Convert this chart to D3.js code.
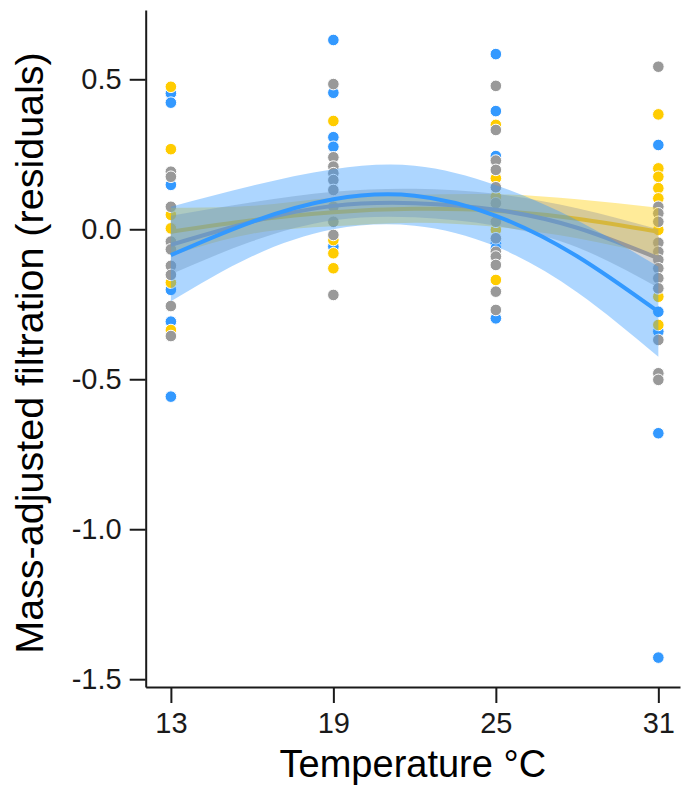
<!DOCTYPE html>
<html lang="en">
<head>
  <meta charset="UTF-8"/>
  <title>Mass-adjusted filtration residuals vs temperature</title>
  <script src="https://d3js.org/d3.v7.min.js"></script>
  <style>
body {
  margin: 0;
  background: #fff;
  font-family: 'Liberation Sans', Arial, sans-serif;
}

svg {
  display: block;
}

.axis path,
.axis line {
  stroke: #1a1a1a;
  stroke-width: 2;
}

.axis text {
  font-size: 29px;
  fill: #1a1a1a;
  font-family: 'Liberation Sans', Arial, sans-serif;
}

text.label {
  font-size: 38px;
  fill: #000;
}

text.label.ylab {
  font-size: 39.5px;
}

.dot {
  stroke: #fff;
  stroke-width: 1;
}

.band {
  opacity: 0.4;
  stroke: none;
}

.fit {
  fill: none;
  stroke-width: 4;
}
  </style>
</head>
<body>
  <svg width="682" height="790"></svg>
  <script>

// temperatures (x axis categories) and y tick values
const temps = [13, 19, 25, 31];
const yTicks = [0.5, 0, -0.5, -1, -1.5];

// residuals, as [temperature, value]
const bluePoints = [
  [13, 0.453], [13, 0.422], [13, 0.148], [13, -0.202], [13, -0.308], [13, -0.558],
  [19, 0.631], [19, 0.455], [19, 0.307], [19, 0.275], [19, -0.058],
  [25, 0.584], [25, 0.394], [25, 0.244], [25, -0.047], [25, -0.063], [25, -0.297],
  [31, 0.281], [31, -0.275], [31, -0.341], [31, -0.68], [31, -1.428]
];

const yellowPoints = [
  [13, 0.475], [13, 0.267], [13, 0.048], [13, 0.003], [13, -0.178], [13, -0.336],
  [19, 0.361], [19, -0.036], [19, -0.08], [19, -0.13],
  [25, 0.348], [25, 0.17], [25, 0.109], [25, -0.002], [25, -0.169],
  [31, 0.383], [31, 0.203], [31, 0.175], [31, 0.137], [31, 0.103], [31, -0.002],
  [31, -0.225], [31, -0.319]
];

const grayPoints = [
  [13, 0.192], [13, 0.175], [13, 0.075], [13, -0.041], [13, -0.067], [13, -0.122],
  [13, -0.152], [13, -0.256], [13, -0.356],
  [19, 0.484], [19, 0.24], [19, 0.209], [19, 0.187], [19, 0.164], [19, 0.131],
  [19, 0.075], [19, 0.025], [19, -0.019], [19, -0.219],
  [25, 0.478], [25, 0.331], [25, 0.229], [25, 0.198], [25, 0.14], [25, 0.087],
  [25, 0.025], [25, -0.03], [25, -0.075], [25, -0.091], [25, -0.119], [25, -0.208],
  [25, -0.269],
  [31, 0.542], [31, 0.075], [31, 0.053], [31, 0.025], [31, -0.045], [31, -0.075],
  [31, -0.102], [31, -0.13], [31, -0.163], [31, -0.197], [31, -0.369], [31, -0.48],
  [31, -0.502]
];

// fitted curves and confidence bands, read at these temperatures
const fitTemps = [13, 16, 19, 22, 25, 28, 31];

const yellowFit = [-0.008, 0.03, 0.057, 0.068, 0.062, 0.035, -0.008];
const yellowHi = [0.072, 0.078, 0.105, 0.115, 0.117, 0.1, 0.072];
const yellowLo = [-0.088, -0.015, 0.01, 0.022, 0.008, -0.03, -0.088];

const grayFit = [-0.052, 0.025, 0.078, 0.087, 0.065, 0.005, -0.097];
const grayHi = [0.045, 0.09, 0.125, 0.135, 0.118, 0.07, 0.0];
const grayLo = [-0.15, -0.04, 0.03, 0.04, 0.012, -0.06, -0.195];

const blueFit = [-0.086, 0.025, 0.1, 0.112, 0.045, -0.09, -0.275];
const blueHi = [0.075, 0.145, 0.2, 0.212, 0.147, 0.03, -0.125];
const blueLo = [-0.24, -0.09, 0.0, 0.012, -0.057, -0.21, -0.425];

const colors = { blue: '#3399FF', yellow: '#FFCC00', gray: '#999999' };

const svg = d3.select('svg');

const plotLeft = 145.7, plotRight = 680, plotTop = 10, plotBottom = 687;

const xScale = d3.scaleLinear()
  .domain([12.07, 31.8])
  .range([plotLeft, plotRight]);

const yScale = d3.scaleLinear()
  .domain([-1.526, 0.731])
  .range([plotBottom, plotTop]);

// points first, the bands sit over them
const drawDots = (pts, color) => {
  svg.append('g')
    .selectAll('circle')
    .data(pts)
    .enter()
    .append('circle')
    .attr('class', 'dot')
    .attr('cx', (d) => xScale(d[0]))
    .attr('cy', (d) => yScale(d[1]))
    .attr('r', 5.8)
    .attr('fill', color);
};

drawDots(bluePoints, colors.blue);
drawDots(yellowPoints, colors.yellow);
drawDots(grayPoints, colors.gray);

const drawFit = (fit, lo, hi, color) => {
  const rows = fitTemps.map((t, i) => ({ t: t, fit: fit[i], lo: lo[i], hi: hi[i] }));

  const area = d3.area()
    .curve(d3.curveNatural)
    .x((d) => xScale(d.t))
    .y0((d) => yScale(d.lo))
    .y1((d) => yScale(d.hi));

  const line = d3.line()
    .curve(d3.curveNatural)
    .x((d) => xScale(d.t))
    .y((d) => yScale(d.fit));

  svg.append('path')
    .datum(rows)
    .attr('class', 'band')
    .attr('fill', color)
    .attr('d', area);

  svg.append('path')
    .datum(rows)
    .attr('class', 'fit')
    .attr('stroke', color)
    .attr('d', line);
};

drawFit(yellowFit, yellowLo, yellowHi, colors.yellow);
drawFit(grayFit, grayLo, grayHi, colors.gray);
drawFit(blueFit, blueLo, blueHi, colors.blue);

// axes
svg.append('g')
  .attr('class', 'axis')
  .attr('transform', `translate(${plotLeft}, 0)`)
  .call(d3.axisLeft(yScale)
    .tickValues(yTicks)
    .tickFormat(d3.format('.1f'))
    .tickSize(16)
    .tickSizeOuter(0)
    .tickPadding(8));

svg.append('g')
  .attr('class', 'axis')
  .attr('transform', `translate(0, ${plotBottom})`)
  .call(d3.axisBottom(xScale)
    .tickValues(temps)
    .tickFormat(d3.format('d'))
    .tickSize(16)
    .tickSizeOuter(0)
    .tickPadding(9));

// d3.format gives a unicode minus, the picture uses a hyphen
svg.selectAll('.axis text').text(function () {
  return d3.select(this).text().replace('\u2212', '-');
});

svg.append('text')
  .attr('class', 'label')
  .attr('x', (plotLeft + plotRight) / 2)
  .attr('y', 777)
  .attr('text-anchor', 'middle')
  .text('Temperature \u00B0C');

svg.append('text')
  .attr('class', 'label ylab')
  .attr('transform', 'translate(43, 353) rotate(-90)')
  .attr('text-anchor', 'middle')
  .text('Mass-adjusted filtration (residuals)');

  </script>
</body>
</html>
